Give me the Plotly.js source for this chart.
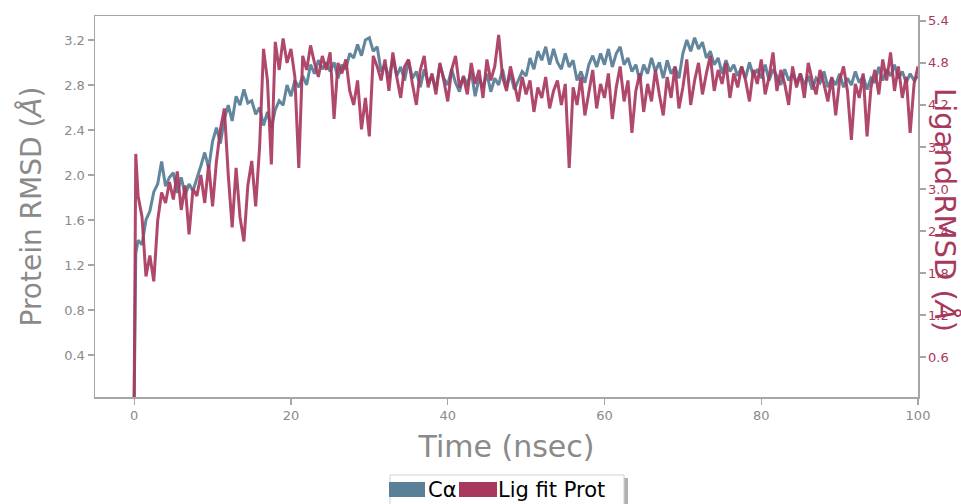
<!DOCTYPE html>
<html>
<head>
<meta charset="utf-8">
<script src="https://cdn.plot.ly/plotly-3.0.1.min.js"></script>
<style>html,body{margin:0;padding:0;background:#fff;}#chart{width:961px;height:504px;}</style>
</head>
<body>
<div id="chart"></div>
<script>
// Time in nsec
const timeNs = [
  0, 0.2, 0.5, 1, 1.5, 2, 2.5, 3, 3.5, 4, 4.5,
  5, 5.5, 6, 6.5, 7, 7.5, 8, 8.5, 9, 9.5,
  10, 10.5, 11, 11.5, 12, 12.5, 13, 13.5, 14, 14.5,
  15, 15.5, 16, 16.5, 17, 17.5, 18, 18.5, 19, 19.5,
  20, 20.5, 21, 21.5, 22, 22.5, 23, 23.5, 24, 24.5,
  25, 25.5, 26, 26.5, 27, 27.5, 28, 28.5, 29, 29.5,
  30, 30.5, 31, 31.5, 32, 32.5, 33, 33.5, 34, 34.5,
  35, 35.5, 36, 36.5, 37, 37.5, 38, 38.5, 39, 39.5,
  40, 40.5, 41, 41.5, 42, 42.5, 43, 43.5, 44, 44.5,
  45, 45.5, 46, 46.5, 47, 47.5, 48, 48.5, 49, 49.5,
  50, 50.5, 51, 51.5, 52, 52.5, 53, 53.5, 54, 54.5,
  55, 55.5, 56, 56.5, 57, 57.5, 58, 58.5, 59, 59.5,
  60, 60.5, 61, 61.5, 62, 62.5, 63, 63.5, 64, 64.5,
  65, 65.5, 66, 66.5, 67, 67.5, 68, 68.5, 69, 69.5,
  70, 70.5, 71, 71.5, 72, 72.5, 73, 73.5, 74, 74.5,
  75, 75.5, 76, 76.5, 77, 77.5, 78, 78.5, 79, 79.5,
  80, 80.5, 81, 81.5, 82, 82.5, 83, 83.5, 84, 84.5,
  85, 85.5, 86, 86.5, 87, 87.5, 88, 88.5, 89, 89.5,
  90, 90.5, 91, 91.5, 92, 92.5, 93, 93.5, 94, 94.5,
  95, 95.5, 96, 96.5, 97, 97.5, 98, 98.5, 99, 99.5,
  100
];

// Protein C-alpha RMSD (Å), left axis
const caRmsd = [
  0.00, 1.30, 1.42, 1.38, 1.60, 1.68, 1.85, 1.92, 2.12, 1.90, 1.98,
  2.02, 1.84, 1.98, 1.82, 1.92, 1.86, 1.96, 2.08, 2.20, 2.06,
  2.30, 2.42, 2.28, 2.50, 2.62, 2.48, 2.70, 2.62, 2.76, 2.64,
  2.66, 2.54, 2.60, 2.44, 2.56, 2.42, 2.58, 2.66, 2.62, 2.80,
  2.70, 2.84, 2.78, 2.88, 2.80, 2.98, 2.90, 3.02, 2.94, 3.00,
  2.92, 3.00, 2.86, 2.98, 2.94, 3.08, 3.04, 3.16, 3.06, 3.20,
  3.22, 3.10, 3.14, 2.92, 2.98, 2.86, 3.04, 2.88, 2.96, 2.84,
  3.02, 2.86, 2.92, 2.78, 2.94, 2.82, 2.88, 2.76, 2.98, 2.86,
  2.80, 2.94, 2.82, 2.74, 2.88, 2.80, 2.92, 2.70, 2.86, 2.78,
  2.90, 2.74, 2.86, 2.80, 2.94, 2.78, 2.90, 2.76, 2.84, 2.92,
  2.88, 3.04, 2.94, 3.10, 3.02, 3.14, 2.98, 3.12, 3.00, 2.94,
  3.08, 2.96, 3.02, 2.84, 2.92, 2.82, 2.98, 3.06, 2.96, 3.08,
  2.98, 3.12, 2.96, 3.08, 3.14, 2.98, 3.04, 2.92, 2.98, 2.84,
  2.98, 2.90, 3.04, 2.92, 3.00, 2.86, 3.02, 2.90, 2.96, 2.86,
  3.08, 3.20, 3.10, 3.22, 3.12, 3.18, 3.04, 3.10, 2.98, 3.04,
  2.90, 3.02, 2.92, 2.98, 2.88, 2.96, 2.86, 3.00, 2.88, 2.94,
  2.86, 2.98, 2.84, 2.94, 2.88, 2.80, 2.94, 2.84, 2.90, 2.82,
  2.90, 2.80, 2.88, 2.76, 2.86, 2.82, 2.92, 2.78, 2.86, 2.80,
  2.90, 2.78, 2.86, 2.80, 2.92, 2.82, 2.88, 2.76, 2.86, 2.82,
  2.96, 2.84, 2.94, 2.88, 2.98, 2.86, 2.92, 2.82, 2.90, 2.84,
  2.88
];

// Ligand (fit on protein) RMSD (Å), right axis
const ligRmsd = [
  0.03, 3.50, 2.90, 2.60, 1.75, 2.05, 1.68, 2.55, 2.95, 2.80, 3.10,
  2.85, 3.25, 2.70, 3.05, 2.35, 3.00, 2.90, 3.20, 2.80, 3.35,
  2.75, 3.40, 3.85, 4.15, 3.20, 2.45, 3.30, 2.60, 2.25, 3.05,
  3.40, 2.75, 3.60, 5.00, 4.55, 3.35, 5.10, 4.70, 5.15, 4.80,
  5.00, 4.60, 3.30, 4.90, 4.70, 5.05, 4.80, 4.60, 4.90, 4.70,
  4.95, 4.00, 4.80, 4.65, 4.85, 4.40, 4.20, 4.55, 3.85, 4.30,
  3.75, 4.90, 4.75, 4.55, 4.85, 4.40, 4.95, 4.60, 4.30, 4.75,
  4.85, 4.50, 4.20, 4.70, 4.90, 4.45, 4.65, 4.35, 4.80, 4.55,
  4.25, 4.70, 4.90, 4.45, 4.60, 4.35, 4.80, 4.50, 4.70, 4.30,
  4.85, 4.55, 4.75, 5.20, 4.60, 4.40, 4.75, 4.50, 4.25, 4.60,
  4.35, 4.55, 4.10, 4.45, 4.30, 4.60, 4.15, 4.40, 4.55, 4.20,
  4.50, 3.30, 4.45, 4.20, 4.60, 4.05, 4.40, 4.70, 4.15, 4.50,
  4.30, 4.65, 4.00, 4.45, 4.75, 4.25, 4.55, 3.80, 4.40, 4.65,
  4.10, 4.50, 4.25, 4.70, 4.35, 4.05, 4.60, 4.30, 4.75, 4.15,
  4.45, 4.85, 4.20, 4.55, 4.80, 4.35, 4.65, 4.90, 4.40, 4.70,
  4.50, 4.80, 4.30, 4.65, 4.45, 4.75, 4.55, 4.25, 4.70, 4.50,
  4.85, 4.35, 4.60, 4.95, 4.40, 4.70, 4.50, 4.20, 4.75, 4.45,
  4.65, 4.30, 4.80, 4.55, 4.35, 4.70, 4.50, 4.25, 4.60, 4.05,
  4.55, 4.75, 4.40, 3.70, 4.50, 4.30, 4.65, 3.75, 4.45, 4.70,
  4.35, 4.85, 4.55, 4.95, 4.40, 4.75, 4.30, 4.60, 3.80, 4.50,
  4.75
];

const xTicks = [0, 20, 40, 60, 80, 100];
const xTickLabels = ["0", "20", "40", "60", "80", "100"];
const leftTicks = [0.4, 0.8, 1.2, 1.6, 2.0, 2.4, 2.8, 3.2];
const leftTickLabels = ["0.4", "0.8", "1.2", "1.6", "2.0", "2.4", "2.8", "3.2"];
const rightTicks = [0.6, 1.2, 1.8, 2.4, 3.0, 3.6, 4.2, 4.8, 5.4];
const rightTickLabels = ["0.6", "1.2", "1.8", "2.4", "3.0", "3.6", "4.2", "4.8", "5.4"];
const seriesNames = ["C\u03B1", "Lig fit Prot"];

const BLUE = "#5a7f98";
const RED = "#a8385d";
const GREY = "#8a8a8a";
const AXIS = "#a6a6a6";
const FONT = "DejaVu Sans";

const traces = [
  {x: timeNs, y: caRmsd, type: "scatter", mode: "lines", name: seriesNames[0],
   line: {color: BLUE, width: 3}, opacity: 0.95, yaxis: "y", showlegend: false},
  {x: timeNs, y: ligRmsd, type: "scatter", mode: "lines", name: seriesNames[1],
   line: {color: RED, width: 3}, opacity: 0.92, yaxis: "y2", showlegend: false}
];

// legend geometry helpers (paper coords from plot-area pixels)
const L = 95, R = 918, T = 16, B = 397;
const px = v => (v - L) / (R - L);
const py = v => (B - v) / (B - T);

const layout = {
  width: 961, height: 504,
  margin: {l: L, r: 961 - R, t: T, b: 504 - B},
  paper_bgcolor: "#fff", plot_bgcolor: "#fff",
  font: {family: FONT, color: GREY},
  showlegend: false,
  xaxis: {
    range: [-5, 100], tickvals: xTicks, ticktext: xTickLabels,
    showgrid: false, zeroline: false, showline: true, mirror: true,
    linecolor: AXIS, linewidth: 1.5, ticks: "outside", ticklen: 6, tickwidth: 1.2, tickcolor: AXIS,
    tickfont: {family: FONT, size: 13, color: GREY},
    title: {text: "Time (nsec)", font: {family: FONT, size: 30, color: GREY}, standoff: 14},
    automargin: false
  },
  yaxis: {
    range: [0.027, 3.413], tickvals: leftTicks, ticktext: leftTickLabels,
    showgrid: false, zeroline: false, showline: true, mirror: false,
    linecolor: AXIS, linewidth: 1.5, ticks: "outside", ticklen: 6, tickwidth: 1.2, tickcolor: AXIS,
    tickfont: {family: FONT, size: 13, color: GREY},
    title: {text: "Protein RMSD (<i>Å</i>)", font: {family: FONT, size: 28, color: GREY}, standoff: 14},
    automargin: false
  },
  yaxis2: {
    range: [0.029, 5.47], tickvals: rightTicks, ticktext: rightTickLabels,
    overlaying: "y", side: "right", anchor: "x",
    showgrid: false, zeroline: false, showline: true,
    linecolor: AXIS, linewidth: 1.5, ticks: "outside", ticklen: 6, tickwidth: 1.2, tickcolor: AXIS,
    tickfont: {family: FONT, size: 13, color: RED},
    automargin: false
  },
  annotations: [
    {text: "Ligand RMSD (<i>Å</i>)", xref: "paper", yref: "paper",
     x: px(945), y: py(210), xanchor: "center", yanchor: "middle", textangle: 90,
     showarrow: false, font: {family: FONT, size: 29, color: RED}},
    {text: seriesNames[0], xref: "paper", yref: "paper", x: px(426), y: py(490),
     xanchor: "left", yanchor: "middle", showarrow: false,
     font: {family: FONT, size: 21, color: "#000"}},
    {text: seriesNames[1], xref: "paper", yref: "paper", x: px(496), y: py(490),
     xanchor: "left", yanchor: "middle", showarrow: false,
     font: {family: FONT, size: 21, color: "#000"}}
  ],
  shapes: [
    {type: "rect", xref: "paper", yref: "paper", x0: px(393), x1: px(628), y0: py(510), y1: py(478),
     line: {width: 0}, fillcolor: "#b0b0b0", layer: "above"},
    {type: "rect", xref: "paper", yref: "paper", x0: px(390), x1: px(624), y0: py(510), y1: py(475),
     line: {color: "#d0d0d0", width: 1}, fillcolor: "#fff", layer: "above"},
    {type: "rect", xref: "paper", yref: "paper", x0: px(389), x1: px(425), y0: py(497), y1: py(482),
     line: {width: 0}, fillcolor: BLUE, layer: "above"},
    {type: "rect", xref: "paper", yref: "paper", x0: px(459), x1: px(497), y0: py(497), y1: py(482),
     line: {width: 0}, fillcolor: RED, layer: "above"}
  ]
};

Plotly.newPlot("chart", traces, layout, {displayModeBar: false, staticPlot: true});
</script>
</body>
</html>
